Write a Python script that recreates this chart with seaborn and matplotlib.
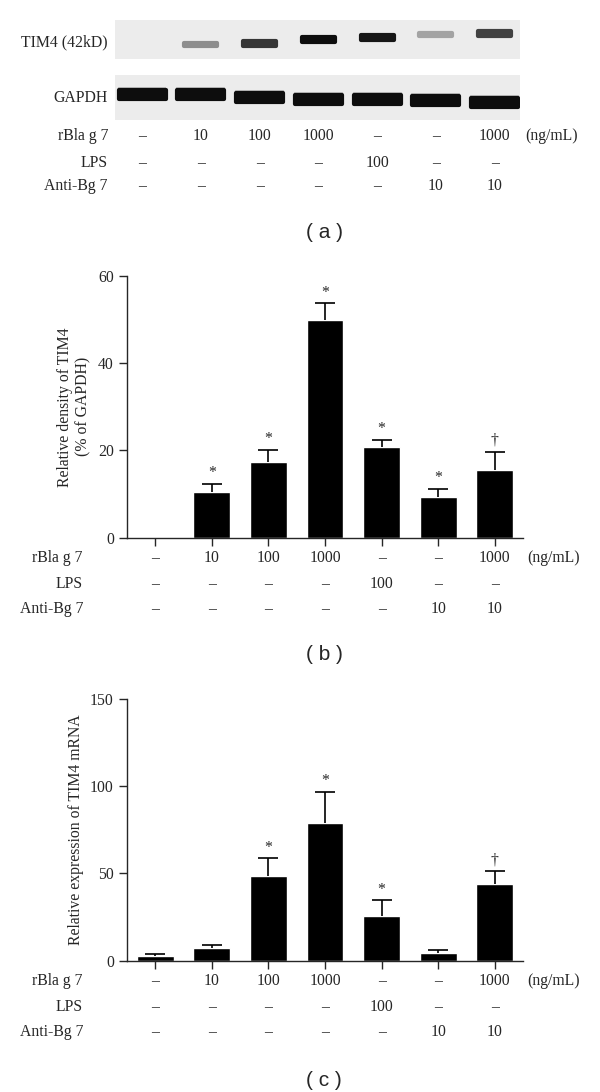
import numpy as np
import pandas as pd
import matplotlib.pyplot as plt
import matplotlib.transforms as mtransforms
import seaborn as sns

# treatment table (shared by all panels)
rbla = ["–", "10", "100", "1000", "–", "–", "1000"]
lps = ["–", "–", "–", "–", "100", "–", "–"]
anti = ["–", "–", "–", "–", "–", "10", "10"]
conditions = ["ctrl", "rBla10", "rBla100", "rBla1000", "LPS100", "anti10", "rBla1000+anti10"]

# (a) western blot band intensities (0 = no band, 1 = saturated)
tim4_band = [0.0, 0.35, 0.75, 1.0, 0.9, 0.25, 0.7]
gapdh_band = [1.0, 1.0, 1.0, 1.0, 1.0, 1.0, 1.0]

# (b) relative density of TIM4 (% of GAPDH)
density_mean = [0.0, 10.5, 17.4, 49.8, 20.9, 9.3, 15.5]
density_err = [0.0, 1.8, 2.8, 3.9, 1.5, 1.9, 4.2]
density_mark = ["", "*", "*", "*", "*", "*", "†"]

# (c) relative expression of TIM4 mRNA
mrna_mean = [2.5, 7.3, 48.5, 79.1, 25.4, 4.4, 43.8]
mrna_err = [1.3, 1.9, 10.2, 17.6, 9.2, 1.9, 7.4]
mrna_mark = ["", "", "*", "*", "*", "", "†"]

sns.set_style("ticks")
plt.rcParams["font.family"] = ["Liberation Serif", "DejaVu Serif"]
plt.rcParams["axes.linewidth"] = 1.0

W, H = 600, 1092
fig = plt.figure(figsize=(W / 100, H / 100), dpi=100)
FS = 11.3


def fx(px):
    return px / W


def fy(py):
    return 1 - py / H


def treatment_rows(ax, ys, label_x, unit_x, ytrans):
    # row labels at figure x, values at lane x
    lab_tr = mtransforms.blended_transform_factory(fig.transFigure, ytrans)
    val_tr = mtransforms.blended_transform_factory(ax.transData, ytrans)
    for name, vals, y in zip(["rBla g 7", "LPS", "Anti-Bg 7"], [rbla, lps, anti], ys):
        ax.text(fx(label_x), y, name, transform=lab_tr, ha="right", va="center", fontsize=FS)
        for i, v in enumerate(vals):
            ax.text(i, y, v, transform=val_tr, ha="center", va="center", fontsize=FS)
    ax.text(fx(unit_x), ys[0], "(ng/mL)", transform=lab_tr, ha="left", va="center", fontsize=FS)


# ---------------- (a) blot ----------------
axa = fig.add_axes([fx(115), fy(125), fx(520 - 115), 110 / H])
axa.set_xlim(-0.46, 6.43)
axa.set_ylim(125, 15)
axa.axis("off")
axa.axhspan(20, 59, color="#ececec", lw=0)
axa.axhspan(75, 120, color="#ececec", lw=0)

lane = np.arange(7)
tim4_y = [44, 44, 43, 39, 37, 34, 33]
gapdh_y = [94, 94, 97, 99, 99, 100, 102]


def band(x, yc, h, w, level):
    c = str(max(0.05, 0.85 - 0.85 * level))
    # faint halo, then a rounded core
    axa.bar(x, h * 1.5, bottom=yc - h * 0.75, width=w * 1.04, color=c, alpha=0.2, lw=0)
    axa.bar(x, h, bottom=yc - h / 2, width=w, color=c, edgecolor=c, lw=3,
            joinstyle="round")


for i, (t, g) in enumerate(zip(tim4_band, gapdh_band)):
    if t > 0:
        band(lane[i], tim4_y[i], 5 if t > 0.5 else 3, 0.56, t)
    band(lane[i], gapdh_y[i], 9, 0.8, g)

lab_tr = mtransforms.blended_transform_factory(fig.transFigure, axa.transData)
axa.text(fx(108), 42, "TIM4 (42kD)", transform=lab_tr, ha="right", va="center", fontsize=FS)
axa.text(fx(108), 98, "GAPDH", transform=lab_tr, ha="right", va="center", fontsize=FS)
treatment_rows(axa, [136, 163, 186], 108, 525, axa.transData)


# ---------------- bar panels ----------------
def bar_panel(top_px, ymax, yticks, means, errs, marks, ylabel):
    ax = fig.add_axes([fx(127), fy(top_px + 261.7), fx(523 - 127), 261.7 / H])
    df = pd.DataFrame({"cond": conditions, "val": means, "err": errs})
    sns.barplot(data=df, x="cond", y="val", color="black", saturation=1, width=0.65,
                ax=ax, errorbar=None)
    # upper half of the error bars only
    sub = df[df["err"] > 0]
    idx = sub.index.to_numpy()
    eb = ax.errorbar(idx, sub["val"], yerr=[np.zeros(len(sub)), sub["err"]], fmt="none",
                     ecolor="black", elinewidth=1.2, capsize=7, capthick=1.2)
    eb[1][0].remove()
    for i, m in enumerate(marks):
        if m:
            ax.annotate(m, (i, means[i] + errs[i]), xytext=(0, 2), textcoords="offset points",
                        ha="center", va="bottom", fontsize=FS)
    ax.set_xlim(-0.5, 6.5)
    ax.set_ylim(0, ymax)
    ax.set_yticks(yticks)
    ax.set_xticks(range(7))
    ax.set_xticklabels([""] * 7)
    ax.set_xlabel("")
    ax.set_ylabel(ylabel, fontsize=FS, linespacing=1.25, labelpad=4.5)
    ax.tick_params(axis="both", length=6, width=1.0, labelsize=FS, direction="out")
    sns.despine(ax=ax)
    treatment_rows(ax, [-0.078, -0.177, -0.272], 83, 527, ax.transAxes)
    return ax


bar_panel(276, 60, [0, 20, 40, 60], density_mean, density_err, density_mark,
          "Relative density of TIM4\n(% of GAPDH)")
bar_panel(699, 150, [0, 50, 100, 150], mrna_mean, mrna_err, mrna_mark,
          "Relative expression of TIM4 mRNA")

for lab, y in [("( a )", 232), ("( b )", 655), ("( c )", 1080)]:
    fig.text(fx(324), fy(y), lab, ha="center", va="center", fontsize=15,
             family=["Liberation Sans", "DejaVu Sans"])

fig.savefig("out.png", dpi=100)
